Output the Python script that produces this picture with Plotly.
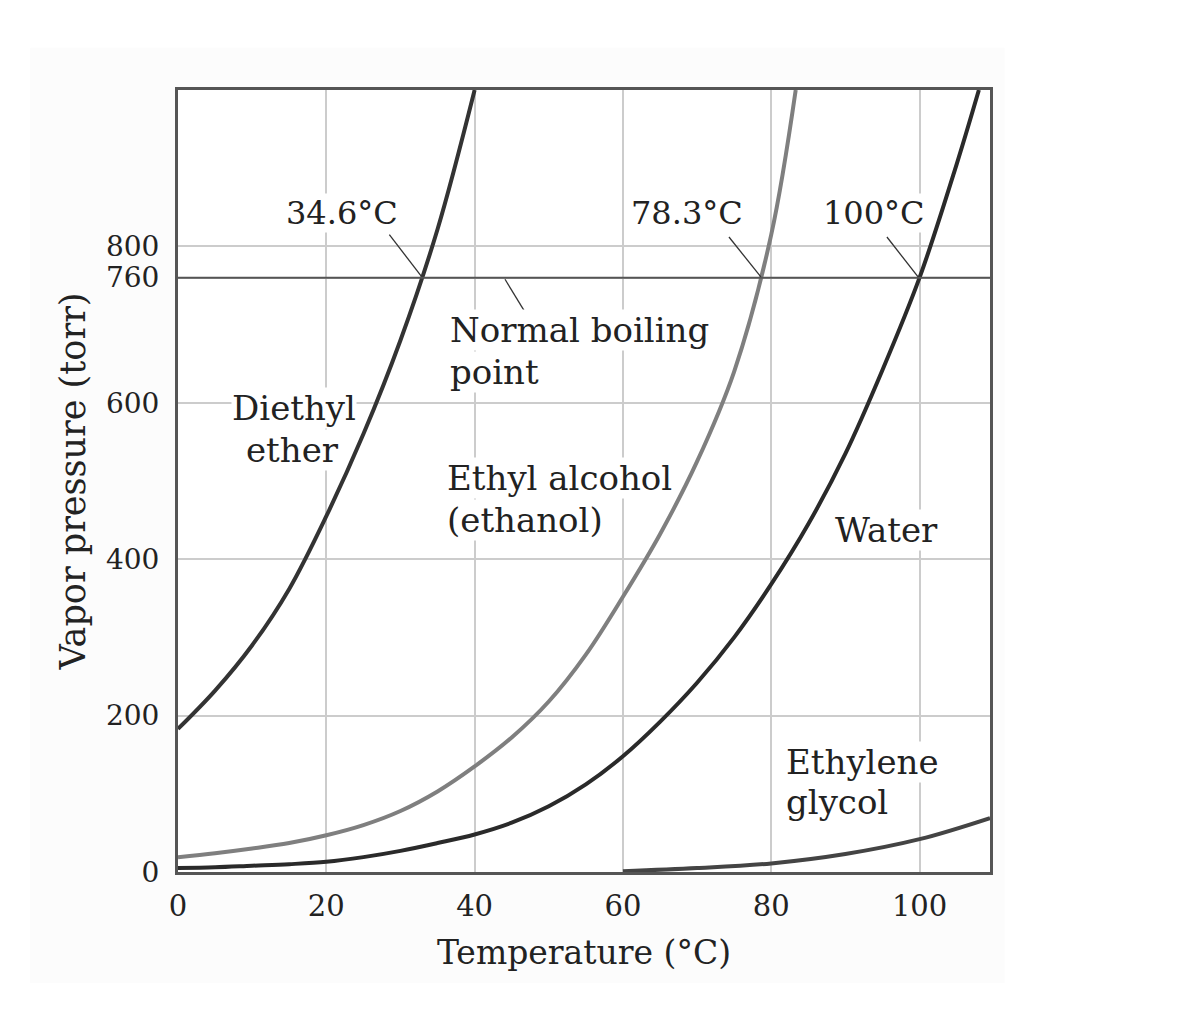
import plotly.graph_objects as go

# ---- data ----
ether_T = [0, 5, 10, 15, 20, 25, 30, 35, 40]
ether_P = [183, 232, 290, 362, 455, 560, 680, 822, 1000]

ethanol_T = [0, 5, 10, 15, 20, 25, 30, 35, 40, 45, 50, 55, 60, 65, 70, 75, 80, 83.3]
ethanol_P = [19, 24, 30, 37, 47, 60, 78, 103, 135, 172, 218, 278, 352, 432, 525, 640, 815, 1000]

water_T = [0, 5, 10, 15, 20, 25, 30, 35, 40, 45, 50, 55, 60, 65, 70, 75, 80, 85, 90, 95, 100, 105, 108]
water_P = [5, 6, 8, 10, 13, 19, 27, 37, 48, 63, 84, 112, 148, 192, 242, 300, 368, 445, 535, 642, 760, 905, 1000]

glycol_T = [60, 70, 80, 90, 100, 109.5]
glycol_P = [1, 5, 11, 23, 42, 69]

x_ticks = [0, 20, 40, 60, 80, 100]
y_ticks = [0, 200, 400, 600, 760, 800]
boiling_P = 760

FONT = "DejaVu Serif"
TXT = "#222222"

fig = go.Figure()

def add_curve(T, P, color, name):
    fig.add_trace(go.Scatter(x=T, y=P, mode="lines", name=name,
                             line=dict(color=color, width=4, shape="spline", smoothing=1.0),
                             showlegend=False, hoverinfo="skip"))

add_curve(ether_T, ether_P, "#333333", "Diethyl ether")
add_curve(ethanol_T, ethanol_P, "#7f7f7f", "Ethyl alcohol")
add_curve(water_T, water_P, "#2a2a2a", "Water")
add_curve(glycol_T, glycol_P, "#444444", "Ethylene glycol")

# faint background panel
fig.add_shape(type="rect", xref="paper", yref="paper", x0=-0.182, x1=1.018, y0=-0.142, y1=1.054,
              line=dict(width=0), fillcolor="#fcfcfc", layer="below")
fig.add_shape(type="rect", xref="paper", yref="paper", x0=0, x1=1, y0=0, y1=1,
              line=dict(width=0), fillcolor="white", layer="below")

# normal boiling point line
fig.add_shape(type="line", xref="paper", yref="y", x0=0, x1=1, y0=boiling_P, y1=boiling_P,
              line=dict(color="#555555", width=2), layer="above")

# leader lines
leaders = [((28.5, 815), (32.8, 762)),
           ((74.3, 812), (78.6, 761)),
           ((95.6, 812), (99.8, 761)),
           ((44.1, 758), (46.8, 716))]
for (a, b) in leaders:
    fig.add_shape(type="line", x0=a[0], y0=a[1], x1=b[0], y1=b[1],
                  line=dict(color="#333333", width=1.3), layer="above")

def label(x, y, text, size=34, xanchor="center"):
    fig.add_annotation(x=x, y=y, text=text, showarrow=False, xanchor=xanchor,
                       yanchor="middle", font=dict(family=FONT, size=size, color=TXT),
                       bgcolor="white", borderpad=0)

label(22.1, 843, "34.6°C", size=32)
label(68.6, 843, "78.3°C", size=32)
label(93.8, 843, "100°C", size=32)
label(36.6, 693, "Normal boiling", xanchor="left")
label(36.6, 639, "point", xanchor="left")
label(15.6, 593, "Diethyl")
label(15.4, 540, "ether")
label(36.2, 504, "Ethyl alcohol", xanchor="left")
label(36.2, 450, "(ethanol)", xanchor="left")
label(95.6, 437, "Water")
label(81.8, 141, "Ethylene", xanchor="left")
label(81.8, 90, "glycol", xanchor="left")

fig.update_xaxes(range=[0, 109.5], tickvals=x_ticks, ticktext=[str(v) for v in x_ticks],
                 showgrid=True, gridcolor="#cccccc", gridwidth=1.5, zeroline=False,
                 showline=True, mirror=True, linecolor="#555555", linewidth=3,
                 ticks="", ticklabelstandoff=6,
                 tickfont=dict(family=FONT, size=29, color=TXT),
                 title=dict(text="Temperature (°C)", font=dict(family=FONT, size=33, color=TXT),
                            standoff=20))
fig.update_yaxes(range=[0, 1000], tickvals=y_ticks, ticktext=[str(v) for v in y_ticks],
                 showgrid=True, gridcolor="#cccccc", gridwidth=1.5, zeroline=False,
                 showline=True, mirror=True, linecolor="#555555", linewidth=3,
                 ticks="", ticklabelstandoff=10,
                 tickfont=dict(family=FONT, size=28, color=TXT),
                 title=dict(text="Vapor pressure (torr)", font=dict(family=FONT, size=35, color=TXT),
                            standoff=10))

fig.update_layout(width=1200, height=1035,
                  margin=dict(l=170, r=218, t=82, b=171, autoexpand=False),
                  paper_bgcolor="white", plot_bgcolor="white")

fig.write_html("out.html")
